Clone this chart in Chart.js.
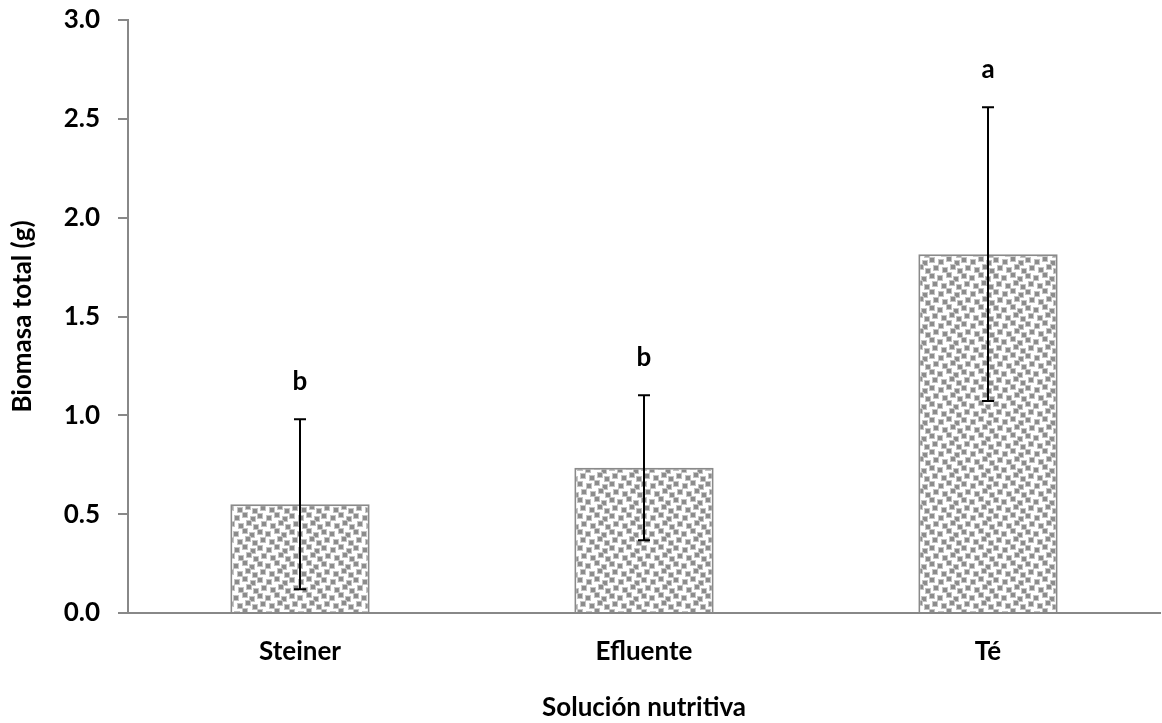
<!DOCTYPE html>
<html>
<head>
<meta charset="utf-8">
<script src="https://cdn.jsdelivr.net/npm/chart.js@4"></script>
<style>
  html, body { margin: 0; padding: 0; background: #ffffff; }
  #wrap { width: 1162px; height: 723px; position: relative; }
</style>
</head>
<body>
<div id="wrap"><canvas id="chart" width="1162" height="723"></canvas></div>
<script>
// Biomasa total por solución nutritiva (media ± desviación)
const categories = ['Steiner', 'Efluente', 'Té'];
const means = [0.55, 0.735, 1.815];
const errors = [0.43, 0.367, 0.743];
const groupLetters = ['b', 'b', 'a'];
const yTicks = [0.0, 0.5, 1.0, 1.5, 2.0, 2.5, 3.0];

const FONT = 'Lato, "Open Sans", sans-serif';
const AXIS_GREY = '#888888';

// Dotted fill: small grey squares scattered on white
function makeDotPattern() {
  const size = 32;
  const c = document.createElement('canvas');
  c.width = size; c.height = size;
  const g = c.getContext('2d');
  g.fillStyle = '#ffffff';
  g.fillRect(0, 0, size, size);
  const spots = [
    [1, 1], [10, 3], [18, 0], [26, 4],
    [5, 9], [14, 11], [22, 8], [29, 12],
    [1, 17], [9, 19], [18, 16], [25, 20],
    [4, 25], [13, 27], [21, 24], [28, 28]
  ];
  spots.forEach(([x, y]) => {
    for (let dx = -size; dx <= size; dx += size) {
      for (let dy = -size; dy <= size; dy += size) {
        g.fillStyle = '#c4c4c4';
        g.fillRect(x + dx, y + dy, 6, 6);
        g.fillStyle = '#8c8c8c';
        g.fillRect(x + dx + 1, y + dy + 1, 4, 4);
      }
    }
  });
  return g.createPattern(c, 'repeat');
}

// Error bars and significance letters drawn from the data through the scales
const errorBarPlugin = {
  id: 'errorBars',
  afterDatasetsDraw(chart) {
    const ctx = chart.ctx;
    const meta = chart.getDatasetMeta(0);
    const y = chart.scales.y;
    ctx.save();
    ctx.strokeStyle = '#000000';
    ctx.lineWidth = 2;
    meta.data.forEach((bar, i) => {
      const x = Math.round(bar.x);
      const yTop = y.getPixelForValue(means[i] + errors[i]);
      const yBot = y.getPixelForValue(means[i] - errors[i]);
      ctx.beginPath();
      ctx.moveTo(x, yTop); ctx.lineTo(x, yBot);
      ctx.moveTo(x - 6, yTop); ctx.lineTo(x + 6, yTop);
      ctx.moveTo(x - 6, yBot); ctx.lineTo(x + 6, yBot);
      ctx.stroke();
      ctx.fillStyle = '#000000';
      ctx.font = 'bold 26px ' + FONT;
      ctx.textAlign = 'center';
      ctx.textBaseline = 'middle';
      ctx.fillText(groupLetters[i], x, yTop - 38);
    });
    ctx.restore();
  }
};

new Chart(document.getElementById('chart'), {
  type: 'bar',
  data: {
    labels: categories,
    datasets: [{
      data: means,
      backgroundColor: makeDotPattern(),
      borderColor: '#8a8a8a',
      borderWidth: 2,
      borderSkipped: 'bottom',
      categoryPercentage: 1.0,
      barPercentage: 0.405
    }]
  },
  options: {
    responsive: false,
    animation: false,
    layout: { padding: { top: 20, right: 2, left: 0, bottom: 0 } },
    plugins: { legend: { display: false }, tooltip: { enabled: false } },
    scales: {
      x: {
        grid: { display: false, drawTicks: false },
        border: { display: true, color: AXIS_GREY, width: 2 },
        ticks: { color: '#000000', font: { family: FONT, size: 26, weight: 'bold' }, padding: 23 },
        title: {
          display: true,
          text: 'Solución nutritiva',
          color: '#000000',
          font: { family: FONT, size: 26, weight: 'bold' },
          padding: { top: 0, bottom: 0 }
        },
        afterFit(scale) {
          scale.height = 110;
          scale.paddingLeft = 0;
          scale.paddingRight = 0;
        }
      },
      y: {
        min: 0, max: 3,
        afterBuildTicks(scale) { scale.ticks = yTicks.map(v => ({ value: v })); },
        grid: { drawOnChartArea: false, drawTicks: true, tickLength: 10, color: AXIS_GREY, lineWidth: 2 },
        border: { display: true, color: AXIS_GREY, width: 2 },
        ticks: {
          color: '#000000',
          font: { family: FONT, size: 26, weight: 'bold' },
          padding: 18,
          callback: (v) => Number(v).toFixed(1)
        },
        title: {
          display: true,
          text: 'Biomasa total (g)',
          color: '#000000',
          font: { family: FONT, size: 26, weight: 'bold' },
          padding: { top: 7, bottom: 0 }
        },
        afterFit(scale) {
          scale.width = 128;
          scale.paddingTop = 0;
          scale.paddingBottom = 0;
        }
      }
    }
  },
  plugins: [errorBarPlugin]
});
</script>
</body>
</html>
